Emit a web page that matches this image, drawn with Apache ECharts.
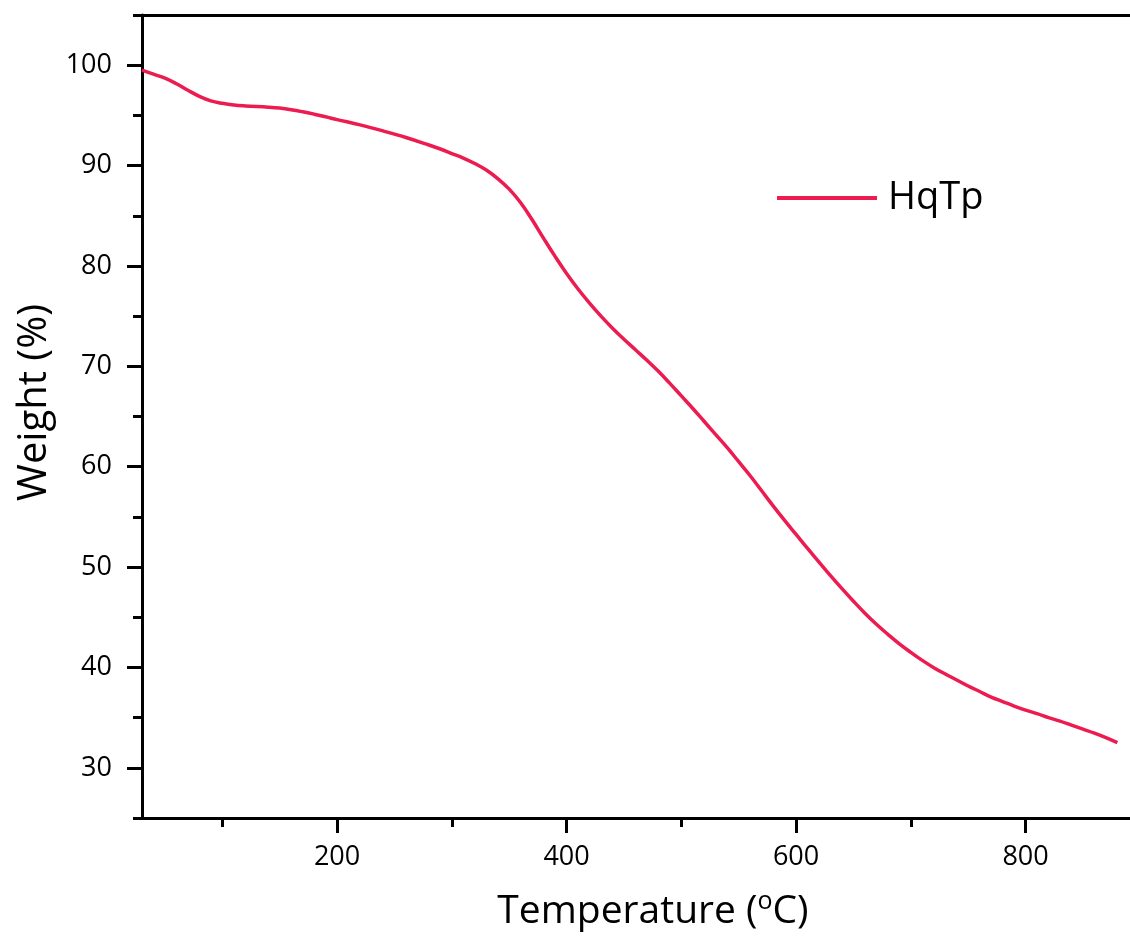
<!DOCTYPE html>
<html>
<head>
<meta charset="utf-8">
<script src="https://cdn.jsdelivr.net/npm/echarts@6/dist/echarts.min.js"></script>
<style>
  html, body { margin: 0; padding: 0; background: #ffffff; }
  #chart { width: 1130px; height: 942px; }
</style>
</head>
<body>
<div id="chart"></div>
<script>
// TGA curve of HqTp: weight retained versus temperature
const temperature = [30, 40, 50, 60, 70, 80, 90, 100, 110, 120, 140, 150, 160, 170, 180, 190, 200,
  220, 240, 260, 280, 290, 300, 310, 320, 330, 340, 350, 360, 370, 380, 390, 400, 410, 420, 430,
  440, 450, 460, 470, 480, 490, 500, 510, 520, 530, 540, 550, 560, 570, 580, 590, 600, 610, 620,
  630, 640, 650, 660, 670, 680, 690, 700, 710, 720, 730, 740, 750, 760, 770, 780, 790, 800, 810,
  820, 830, 840, 850, 860, 870, 880];
const weight = [99.5, 99.1, 98.7, 98.15, 97.5, 96.9, 96.45, 96.2, 96.03, 95.94, 95.82, 95.73, 95.57,
  95.36, 95.12, 94.86, 94.58, 94.05, 93.45, 92.8, 92.05, 91.65, 91.2, 90.75, 90.2, 89.55, 88.7,
  87.65, 86.3, 84.6, 82.75, 80.95, 79.25, 77.7, 76.3, 75.0, 73.8, 72.7, 71.65, 70.6, 69.5, 68.3,
  67.05, 65.8, 64.5, 63.2, 61.9, 60.5, 59.1, 57.6, 56.1, 54.65, 53.25, 51.85, 50.5, 49.15, 47.85,
  46.6, 45.4, 44.3, 43.3, 42.35, 41.5, 40.7, 39.98, 39.35, 38.75, 38.15, 37.6, 37.05, 36.6, 36.15,
  35.75, 35.4, 35.0, 34.65, 34.25, 33.85, 33.45, 33.0, 32.5];

const xMajorTicks = [200, 400, 600, 800];
const xMinorTicks = [100, 300, 500, 700];
const yMajorTicks = [30, 40, 50, 60, 70, 80, 90, 100];
const yMinorTicks = [25, 35, 45, 55, 65, 75, 85, 95, 105];

const X_MIN = 30, X_MAX = 891, Y_MIN = 25, Y_MAX = 105;
const FONT = '"Open Sans", "Liberation Sans", sans-serif';
const LINE_COLOR = '#ec1b50';
const axisLine = { show: true, lineStyle: { color: '#000', width: 3 } };

const chart = echarts.init(document.getElementById('chart'), null, { renderer: 'canvas' });

chart.setOption({
  backgroundColor: '#ffffff',
  animation: false,
  grid: { left: 142, right: 0, top: 15, bottom: 124, containLabel: false },
  legend: {
    left: 772, top: 174,
    itemWidth: 100, itemHeight: 4,
    textStyle: { fontFamily: FONT, fontSize: 38, color: '#000', padding: [0, 0, 0, 6] },
    data: [{ name: 'HqTp', icon: 'rect' }]
  },
  xAxis: [
    {
      type: 'value', position: 'bottom', min: X_MIN, max: X_MAX,
      axisLine: axisLine,
      splitLine: { show: false },
      axisTick: { show: true, length: 15, inside: false, customValues: xMajorTicks,
        lineStyle: { color: '#000', width: 3 } },
      axisLabel: { customValues: xMajorTicks, margin: 26, color: '#000', fontFamily: FONT, fontSize: 27 },
      name: 'Temperature ({sup|o}C)',
      nameLocation: 'middle', nameGap: 71,
      nameTextStyle: {
        fontFamily: FONT, fontSize: 39, color: '#000', padding: [0, 0, 0, 34],
        rich: { sup: { fontFamily: FONT, fontSize: 25, color: '#000', padding: [0, 0, 20, 0] } }
      }
    },
    {
      type: 'value', position: 'bottom', min: X_MIN, max: X_MAX,
      axisLine: { show: false },
      splitLine: { show: false },
      axisTick: { show: true, length: 9, customValues: xMinorTicks,
        lineStyle: { color: '#000', width: 3 } },
      axisLabel: { show: false }
    },
    {
      type: 'value', position: 'top', min: X_MIN, max: X_MAX,
      axisLine: axisLine,
      splitLine: { show: false },
      axisTick: { show: false },
      axisLabel: { show: false }
    }
  ],
  yAxis: [
    {
      type: 'value', position: 'left', min: Y_MIN, max: Y_MAX,
      axisLine: axisLine,
      splitLine: { show: false },
      axisTick: { show: true, length: 15, customValues: yMajorTicks,
        lineStyle: { color: '#000', width: 3 } },
      axisLabel: { customValues: yMajorTicks, margin: 30, color: '#000', fontFamily: FONT, fontSize: 27 },
      name: 'Weight (%)',
      nameLocation: 'middle', nameGap: 83,
      nameTextStyle: { fontFamily: FONT, fontSize: 40, color: '#000', padding: [0, 0, 0, 28] }
    },
    {
      type: 'value', position: 'left', offset: 0, min: Y_MIN, max: Y_MAX,
      axisLine: { show: false },
      splitLine: { show: false },
      axisTick: { show: true, length: 9, customValues: yMinorTicks,
        lineStyle: { color: '#000', width: 3 } },
      axisLabel: { show: false }
    }
  ],
  series: [
    {
      name: 'HqTp',
      type: 'line',
      xAxisIndex: 0, yAxisIndex: 0,
      data: temperature.map((t, i) => [t, weight[i]]),
      smooth: 0.4,
      symbol: 'none', showSymbol: false,
      lineStyle: { color: LINE_COLOR, width: 3.5 },
      itemStyle: { color: LINE_COLOR },
      z: 3
    }
  ]
});
</script>
</body>
</html>
